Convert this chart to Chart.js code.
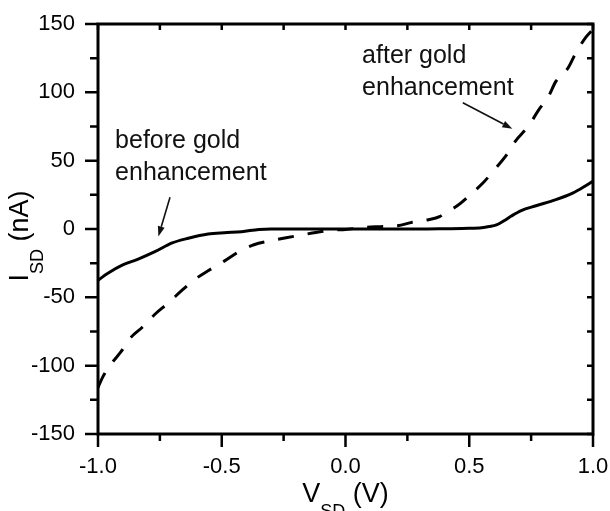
<!DOCTYPE html>
<html><head><meta charset="utf-8">
<script src="https://cdn.jsdelivr.net/npm/chart.js@4.4.0/dist/chart.umd.min.js"></script>
<style>html,body{margin:0;padding:0;background:#fff;}#wrap{width:610px;height:511px;}</style>
</head><body><div id="wrap"><canvas id="c" width="610" height="511"></canvas></div>
<script>
// ---- data ----
const beforeV = [-1.0,-0.96,-0.90,-0.84,-0.77,-0.70,-0.635,-0.555,-0.49,-0.42,-0.35,-0.30,-0.20,-0.10,0.0,0.10,0.20,0.30,0.40,0.50,0.55,0.58,0.61,0.64,0.67,0.71,0.77,0.85,0.92,0.96,1.0];
const beforeI = [-37.5,-32.4,-26.3,-22.2,-16.6,-10.2,-6.8,-3.7,-2.7,-2.0,-0.3,0,0,0,0,0,0,0,0.2,0.5,1,1.8,3,6,9.5,13.5,17,21.5,26.5,30.5,35];
const afterV = [-1.0,-0.98,-0.945,-0.907,-0.867,-0.821,-0.77,-0.718,-0.659,-0.608,-0.55,-0.49,-0.43,-0.37,-0.30,-0.24,-0.18,-0.12,-0.05,0.0,0.08,0.14,0.21,0.27,0.335,0.38,0.40,0.45,0.51,0.56,0.60,0.65,0.685,0.74,0.78,0.82,0.85,0.90,0.93,0.97,1.0];
const afterI = [-116,-108,-98.3,-89.8,-79.3,-71.9,-62.4,-54.4,-44.6,-36.8,-30,-23.5,-16.5,-11.5,-8.5,-6.4,-4.5,-2.5,-0.8,-0.3,1.2,1.7,2.3,5,6.8,9,11.5,16.8,26,34.6,43,54,64,75.5,87,97,108,118,128.6,140,146];
const xTicks = [-1.0,-0.5,0.0,0.5,1.0];
const xMinor = [-0.75,-0.25,0.25,0.75];
const yTicks = [-150,-100,-50,0,50,100,150];
const yMinor = [-125,-75,-25,25,75,125];
const beforeLabel = ["before gold","enhancement"];
const afterLabel = ["after gold","enhancement"];

const FONT = '"Liberation Sans", Arial, Helvetica, sans-serif';
const toPts = (xs, ys) => xs.map((x, i) => ({x: x, y: ys[i]}));
const noPad = s => { s.paddingLeft = 0; s.paddingRight = 0; s.paddingTop = 0; s.paddingBottom = 0; };

const framePlugin = {
  id: 'frame',
  afterDraw(chart) {
    const ctx = chart.ctx, a = chart.chartArea;
    const xs = chart.scales.x, ys = chart.scales.y;
    ctx.save();
    ctx.strokeStyle = '#000';
    ctx.lineWidth = 3;
    ctx.strokeRect(a.left, a.top, a.right - a.left, a.bottom - a.top);
    ctx.lineWidth = 2.5;
    ctx.beginPath();
    yTicks.forEach(v => { const p = ys.getPixelForValue(v); ctx.moveTo(a.left - 13, p); ctx.lineTo(a.left, p); });
    yMinor.forEach(v => { const p = ys.getPixelForValue(v); ctx.moveTo(a.left - 8, p); ctx.lineTo(a.left, p); });
    yTicks.concat(yMinor).forEach(v => { const p = ys.getPixelForValue(v); ctx.moveTo(a.right - 6, p); ctx.lineTo(a.right, p); });
    xTicks.forEach(v => { const p = xs.getPixelForValue(v); ctx.moveTo(p, a.bottom); ctx.lineTo(p, a.bottom + 13); });
    xMinor.forEach(v => { const p = xs.getPixelForValue(v); ctx.moveTo(p, a.bottom); ctx.lineTo(p, a.bottom + 7); });
    xTicks.concat(xMinor).forEach(v => { const p = xs.getPixelForValue(v); ctx.moveTo(p, a.top); ctx.lineTo(p, a.top + 6); });
    ctx.stroke();

    // annotations
    ctx.fillStyle = '#111';
    ctx.font = '25px ' + FONT;
    ctx.textAlign = 'left';
    ctx.textBaseline = 'alphabetic';
    const bx = xs.getPixelForValue(-0.931);
    ctx.fillText(beforeLabel[0], bx, ys.getPixelForValue(59.3));
    ctx.fillText(beforeLabel[1], bx, ys.getPixelForValue(35.9));
    const ax = xs.getPixelForValue(0.067);
    ctx.fillText(afterLabel[0], ax, ys.getPixelForValue(121.2));
    ctx.fillText(afterLabel[1], ax, ys.getPixelForValue(98));

    function arrow(x1, y1, x2, y2) {
      const X1 = xs.getPixelForValue(x1), Y1 = ys.getPixelForValue(y1);
      const X2 = xs.getPixelForValue(x2), Y2 = ys.getPixelForValue(y2);
      const ang = Math.atan2(Y2 - Y1, X2 - X1);
      const L = 10, W = 3.5;
      ctx.strokeStyle = '#111';
      ctx.lineWidth = 1.6;
      ctx.beginPath();
      ctx.moveTo(X1, Y1);
      ctx.lineTo(X2 - L * Math.cos(ang), Y2 - L * Math.sin(ang));
      ctx.stroke();
      ctx.beginPath();
      ctx.moveTo(X2, Y2);
      ctx.lineTo(X2 - L * Math.cos(ang) + W * Math.sin(ang), Y2 - L * Math.sin(ang) - W * Math.cos(ang));
      ctx.lineTo(X2 - L * Math.cos(ang) - W * Math.sin(ang), Y2 - L * Math.sin(ang) + W * Math.cos(ang));
      ctx.closePath();
      ctx.fill();
    }
    arrow(-0.709, 23.2, -0.756, -5.4);
    arrow(0.474, 92.4, 0.674, 73.4);

    // axis titles with subscripts
    ctx.fillStyle = '#000';
    const main = '27px ' + FONT, sub = '18px ' + FONT;
    function titleParts(a1, s, a2) {
      ctx.font = main; const w1 = ctx.measureText(a1).width, w3 = ctx.measureText(a2).width;
      ctx.font = sub; const w2 = ctx.measureText(s).width;
      return [w1, w2, w3];
    }
    function drawTitle(a1, s, a2, start, base) {
      const [w1, w2] = titleParts(a1, s, a2);
      ctx.font = main; ctx.fillText(a1, start, base);
      ctx.font = sub; ctx.fillText(s, start + w1, base + 15);
      ctx.font = main; ctx.fillText(a2, start + w1 + w2, base);
    }
    let w = titleParts('V', 'SD', ' (V)'); let tot = w[0] + w[1] + w[2];
    drawTitle('V', 'SD', ' (V)', (a.left + a.right) / 2 - tot / 2, 502);
    w = titleParts('I', 'SD', ' (nA)'); tot = w[0] + w[1] + w[2];
    ctx.save();
    ctx.translate(28, 236);
    ctx.rotate(-Math.PI / 2);
    drawTitle('I', 'SD', ' (nA)', -tot / 2, 0);
    ctx.restore();
    ctx.restore();
  }
};

new Chart(document.getElementById('c'), {
  type: 'scatter',
  data: {
    datasets: [
      { label: 'before gold enhancement', data: toPts(beforeV, beforeI), showLine: true,
        borderColor: '#000', borderWidth: 3, pointRadius: 0, cubicInterpolationMode: 'monotone', fill: false },
      { label: 'after gold enhancement', data: toPts(afterV, afterI), showLine: true,
        borderColor: '#000', borderWidth: 3, borderDash: [16, 14], pointRadius: 0, cubicInterpolationMode: 'monotone', fill: false }
    ]
  },
  options: {
    responsive: false, animation: false, devicePixelRatio: 1,
    layout: { padding: { left: 0, right: 17, top: 24, bottom: 0 } },
    plugins: { legend: { display: false }, tooltip: { enabled: false } },
    scales: {
      x: {
        type: 'linear', min: -1, max: 1, position: 'bottom',
        afterBuildTicks: s => { s.ticks = xTicks.map(v => ({ value: v })); },
        afterFit: s => { s.height = 77; noPad(s); },
        grid: { display: false, drawTicks: false }, border: { display: false },
        ticks: { color: '#000', font: { size: 22, family: FONT }, padding: 20, maxRotation: 0, autoSkip: false,
                 callback: v => Number(v).toFixed(1) }
      },
      y: {
        type: 'linear', min: -150, max: 150,
        afterBuildTicks: s => { s.ticks = yTicks.map(v => ({ value: v })); },
        afterFit: s => { s.width = 98; noPad(s); },
        grid: { display: false, drawTicks: false }, border: { display: false },
        ticks: { color: '#000', font: { size: 22, family: FONT }, padding: 23, autoSkip: false,
                 callback: v => String(v) }
      }
    }
  },
  plugins: [framePlugin]
});
</script></body></html>
